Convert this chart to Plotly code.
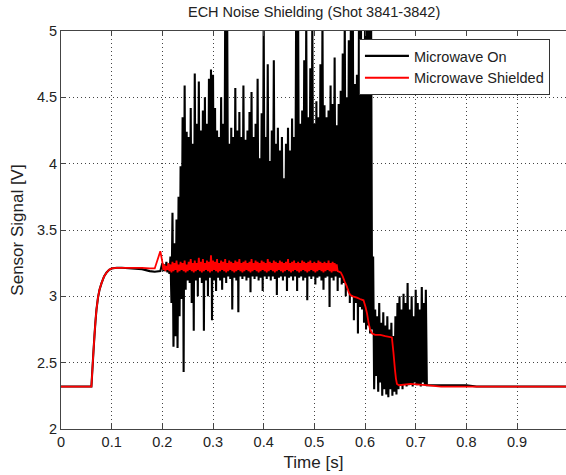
import plotly.graph_objects as go

# ---------------- data ----------------
# slow part before noise (both signals)
pre_t = [0.0, 0.060, 0.062, 0.064, 0.066, 0.068, 0.070, 0.073, 0.076, 0.080, 0.085,
         0.090, 0.095, 0.100, 0.110, 0.120, 0.140, 0.160, 0.175, 0.185, 0.196]
on_pre_v = [2.32, 2.32, 2.45, 2.58, 2.70, 2.81, 2.90, 2.99, 3.05, 3.10, 3.15,
            3.18, 3.20, 3.21, 3.215, 3.215, 3.21, 3.205, 3.19, 3.185, 3.19]
sh_pre_v = [2.32, 2.32, 2.45, 2.58, 2.70, 2.81, 2.90, 2.99, 3.05, 3.10, 3.15,
            3.18, 3.20, 3.21, 3.215, 3.215, 3.215, 3.215, 3.21, 3.21, 3.34]

# "Microwave On" noisy part: sampled every 2 ms starting at 0.200 s (peak, trough, peak, ...)
on_noise_t0 = 0.200
on_noise_dt = 0.002
on_peaks = [3.25, 3.24, 3.26, 3.24, 3.30, 3.63, 3.40, 3.58, 3.75, 3.98,
            4.35, 4.59, 4.24, 4.20, 4.42, 4.15, 4.68, 4.30, 4.62, 4.25,
            4.40, 4.50, 4.30, 4.64, 4.71, 4.67, 4.42, 4.25, 4.20, 4.50,
            4.30, 5.10, 5.10, 4.15, 4.27, 4.20, 4.57, 4.25, 4.39, 4.20,
            4.59, 4.18, 4.25, 4.39, 4.54, 4.20, 4.30, 4.64, 4.04, 4.38,
            5.10, 4.20, 4.75, 4.02, 4.25, 4.78, 4.15, 4.27, 4.10, 4.20,
            3.89, 4.15, 4.27, 4.10, 4.34, 4.20, 5.10, 5.10, 4.30, 4.40,
            4.78, 5.10, 4.35, 4.72, 5.10, 4.30, 4.47, 4.35, 4.75, 5.10,
            4.44, 4.35, 4.40, 4.59, 4.45, 4.80, 4.29, 4.45, 4.55, 4.83,
            5.10, 4.50, 4.93, 5.10, 5.10, 4.60, 4.67, 5.10, 5.10, 4.90,
            5.10, 5.10, 5.10, 5.10, 3.30, 2.90, 2.85, 2.95, 2.80, 2.88,
            2.78, 2.85, 2.75, 2.80, 2.70, 2.85, 2.95, 3.00, 2.90, 3.02,
            2.95, 3.10, 2.90, 3.00, 2.85, 3.05, 2.95, 2.90, 3.07, 2.95,
            3.05]
on_troughs = [3.19, 3.19, 3.18, 3.17, 2.95, 2.62, 2.70, 2.61, 2.85, 2.98,
              2.43, 3.05, 3.12, 3.10, 2.95, 2.74, 3.12, 3.00, 3.14, 3.10,
              2.74, 3.12, 3.00, 3.14, 2.82, 3.12, 3.04, 3.14, 3.12, 3.05,
              3.14, 3.10, 3.15, 3.13, 2.90, 3.14, 3.12, 2.88, 3.15, 3.13,
              3.15, 3.12, 3.14, 3.03, 3.15, 3.13, 3.15, 3.12, 3.14, 3.04,
              3.15, 3.13, 3.15, 3.12, 3.15, 3.13, 3.01, 3.14, 3.15, 3.12,
              3.15, 3.04, 3.14, 3.15, 3.12, 3.15, 3.04, 3.14, 3.15, 3.12,
              3.14, 2.97, 3.15, 3.13, 3.15, 3.09, 3.14, 3.15, 3.12, 3.05,
              3.14, 3.15, 2.92, 3.14, 3.12, 3.15, 3.04, 3.14, 3.09, 3.10,
              3.00, 3.05, 2.95, 3.00, 2.82, 2.95, 2.72, 2.92, 2.90, 2.80,
              2.75, 2.78, 2.72, 2.75, 2.30, 2.40, 2.28, 2.35, 2.25, 2.30,
              2.26, 2.24, 2.30, 2.25, 2.28, 2.26, 2.30, 2.33, 2.30, 2.34,
              2.32, 2.33, 2.34, 2.32, 2.35, 2.33, 2.34, 2.32, 2.35, 2.33,
              2.33]
on_post_t = [0.724, 0.800, 0.820, 1.0]
on_post_v = [2.33, 2.33, 2.32, 2.32]

# "Microwave Shielded" noisy plateau: sampled every 2 ms starting at 0.200 s
sh_noise_t0 = 0.200
sh_noise_dt = 0.002
sh_peaks = [3.26, 3.24, 3.23, 3.25, 3.24, 3.26, 3.25, 3.27, 3.24, 3.26,
            3.25, 3.27, 3.24, 3.26, 3.28, 3.25, 3.27, 3.25, 3.29, 3.26,
            3.28, 3.25, 3.27, 3.26, 3.31, 3.27, 3.26, 3.28, 3.25, 3.27,
            3.26, 3.28, 3.25, 3.27, 3.26, 3.25, 3.27, 3.26, 3.28, 3.25,
            3.26, 3.27, 3.25, 3.26, 3.28, 3.25, 3.27, 3.26, 3.25, 3.27,
            3.26, 3.25, 3.28, 3.26, 3.25, 3.27, 3.26, 3.25, 3.27, 3.26,
            3.25, 3.26, 3.28, 3.25, 3.26, 3.27, 3.25, 3.26, 3.25, 3.27,
            3.26, 3.25, 3.26, 3.27, 3.25, 3.26, 3.25, 3.27, 3.26, 3.25,
            3.26, 3.25, 3.27, 3.25, 3.26, 3.25, 3.24]
sh_troughs = [3.20, 3.19, 3.20, 3.19, 3.18, 3.19, 3.20, 3.18, 3.19, 3.20,
              3.19, 3.18, 3.19, 3.20, 3.19, 3.18, 3.19, 3.20, 3.19, 3.18,
              3.19, 3.20, 3.19, 3.18, 3.19, 3.20, 3.19, 3.18, 3.19, 3.20,
              3.19, 3.18, 3.19, 3.20, 3.19, 3.18, 3.19, 3.20, 3.19, 3.18,
              3.19, 3.20, 3.19, 3.18, 3.19, 3.20, 3.19, 3.18, 3.19, 3.20,
              3.19, 3.18, 3.19, 3.20, 3.19, 3.18, 3.19, 3.20, 3.19, 3.18,
              3.19, 3.20, 3.19, 3.18, 3.19, 3.20, 3.19, 3.18, 3.19, 3.20,
              3.19, 3.18, 3.19, 3.20, 3.19, 3.18, 3.19, 3.20, 3.19, 3.18,
              3.19, 3.20, 3.19, 3.18, 3.19, 3.19, 3.19]
sh_post_t = [0.552, 0.556, 0.560, 0.564, 0.568, 0.571, 0.576, 0.584, 0.590, 0.597,
             0.601, 0.604, 0.607, 0.610, 0.614, 0.620, 0.630, 0.640, 0.653, 0.656,
             0.659, 0.661, 0.663, 0.667, 0.690, 0.720, 0.750, 1.0]
sh_post_v = [3.18, 3.15, 3.11, 3.075, 3.03, 3.01, 3.00, 2.99, 2.98, 2.97,
             2.92, 2.87, 2.80, 2.75, 2.72, 2.71, 2.71, 2.70, 2.69, 2.58,
             2.45, 2.38, 2.34, 2.33, 2.34, 2.33, 2.32, 2.32]

title_text = "ECH Noise Shielding (Shot 3841-3842)"
x_title = "Time [s]"
y_title = "Sensor Signal [V]"
x_ticks = [0, 0.1, 0.2, 0.3, 0.4, 0.5, 0.6, 0.7, 0.8, 0.9, 1.0]
x_ticklabels = ["0", "0.1", "0.2", "0.3", "0.4", "0.5", "0.6", "0.7", "0.8", "0.9", "1"]
y_ticks = [2, 2.5, 3, 3.5, 4, 4.5, 5]
y_ticklabels = ["2", "2.5", "3", "3.5", "4", "4.5", "5"]


def interleave(t0, dt, peaks, troughs):
    ts, vs = [], []
    for i in range(max(len(peaks), len(troughs))):
        if i < len(peaks):
            ts.append(t0 + 2 * i * dt)
            vs.append(peaks[i])
        if i < len(troughs):
            ts.append(t0 + (2 * i + 1) * dt)
            vs.append(troughs[i])
    return ts, vs


on_nt, on_nv = interleave(on_noise_t0, on_noise_dt, on_peaks, on_troughs)
sh_nt, sh_nv = interleave(sh_noise_t0, sh_noise_dt, sh_peaks, sh_troughs)

on_t = pre_t + on_nt + on_post_t
on_v = on_pre_v + on_nv + on_post_v
sh_t = pre_t + sh_nt + sh_post_t
sh_v = sh_pre_v + sh_nv + sh_post_v

FONT = "Liberation Sans, Arial, sans-serif"

fig = go.Figure()
fig.add_trace(go.Scatter(x=on_t, y=on_v, mode="lines", name="Microwave On",
                         line=dict(color="#000000", width=2.1, simplify=False)))
fig.add_trace(go.Scatter(x=sh_t, y=sh_v, mode="lines", name="Microwave Shielded",
                         line=dict(color="#ff0000", width=1.8, simplify=False)))

fig.update_layout(
    width=566, height=475,
    margin=dict(l=61, r=0, t=31, b=46),
    paper_bgcolor="white", plot_bgcolor="white",
    font=dict(family=FONT, size=14, color="#222222"),
    title=dict(text=title_text, x=0.555, xanchor="center", y=0.975, yanchor="middle",
               font=dict(size=14.5, color="#222222")),
    showlegend=True,
    legend=dict(x=0.59, y=0.98, xanchor="left", yanchor="top",
                bgcolor="white", bordercolor="#333333", borderwidth=1,
                itemwidth=44,
                font=dict(size=14.5, color="#222222"), tracegroupgap=0),
)
fig.update_xaxes(
    range=[0, 0.9966], tickmode="array", tickvals=x_ticks, ticktext=x_ticklabels,
    showline=True, linecolor="#444444", linewidth=1, mirror="ticks",
    ticks="inside", ticklen=5, tickcolor="#444444",
    showgrid=True, gridcolor="#444444", gridwidth=1, griddash="1px,3px",
    zeroline=False, title=dict(text=x_title, standoff=6),
    tickfont=dict(size=14.5),
)
fig.update_yaxes(
    range=[2, 5], tickmode="array", tickvals=y_ticks, ticktext=y_ticklabels,
    showline=True, linecolor="#444444", linewidth=1, mirror=False,
    ticks="inside", ticklen=5, tickcolor="#444444",
    showgrid=True, gridcolor="#444444", gridwidth=1, griddash="1px,3px",
    zeroline=False, title=dict(text=y_title, standoff=8),
    tickfont=dict(size=14.5),
)

fig.write_html("out.html")
